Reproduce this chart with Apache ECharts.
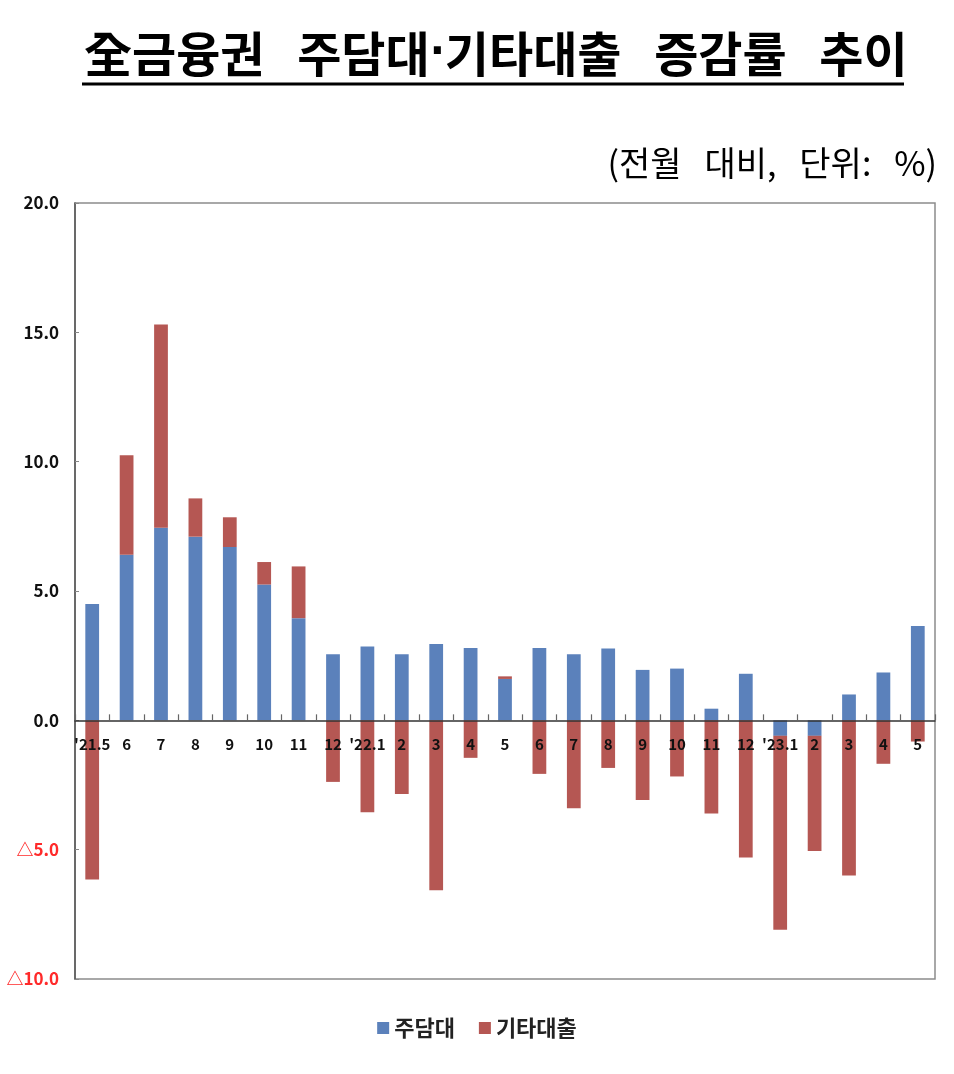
<!DOCTYPE html>
<html>
<head>
<meta charset="utf-8">
<script src="https://cdn.jsdelivr.net/npm/echarts@6/dist/echarts.min.js"></script>
<style>
  html, body { margin: 0; padding: 0; background: #fff; }
  #chart { width: 954px; height: 1074px; }
</style>
</head>
<body>
<div id="chart"></div>
<script>
// 전월 대비 증감률 (%)
const months = ["'21.5", "6", "7", "8", "9", "10", "11", "12", "'22.1", "2", "3", "4", "5",
  "6", "7", "8", "9", "10", "11", "12", "'23.1", "2", "3", "4", "5"];
const mortgage = [4.5, 6.4, 7.45, 7.1, 6.7, 5.25, 3.95, 2.55, 2.85, 2.55, 2.95, 2.8, 1.6,
  2.8, 2.55, 2.78, 1.95, 2.0, 0.45, 1.8, -0.6, -0.6, 1.0, 1.85, 3.65];
const otherLoans = [-6.15, 3.85, 7.85, 1.48, 1.15, 0.87, 2.0, -2.38, -3.55, -2.85, -6.57, -1.45, 0.1,
  -2.07, -3.4, -1.84, -3.08, -2.17, -3.6, -5.3, -7.5, -4.45, -6.0, -1.68, -0.82];
const yTicks = { min: -10, max: 20, step: 5 };

const FONT = "'Noto Sans CJK KR', 'Noto Sans', sans-serif";
const BLUE = "#5b81bb";
const RED = "#b55753";

const chart = echarts.init(document.getElementById("chart"));
chart.setOption({
  backgroundColor: "#fff",
  animation: false,
  title: [
    {
      text: "{a|全금융권   주담대}{b|·}{a|기타대출   증감률   추이}",
      left: 79, top: 25,
      textStyle: {
        rich: {
          a: { fontFamily: FONT, fontSize: 48, fontWeight: "bold", color: "#000" },
          b: { fontFamily: "'DejaVu Sans', sans-serif", fontSize: 40, fontWeight: "bold", color: "#000" }
        }
      }
    },
    {
      text: "(전월   대비,   단위:   %)",
      right: 12, top: 141,
      textStyle: { fontFamily: FONT, fontSize: 34, fontWeight: "normal", color: "#000" }
    }
  ],
  graphic: [{
    type: "line",
    shape: { x1: 82, y1: 84, x2: 904, y2: 84 },
    style: { stroke: "#000", lineWidth: 3 }
  }],
  legend: {
    bottom: 30, left: "center",
    itemWidth: 12, itemHeight: 12, itemGap: 24,
    icon: "rect",
    textStyle: { fontFamily: FONT, fontSize: 22, fontWeight: "bold", color: "#222" },
    data: ["주담대", "기타대출"]
  },
  grid: {
    left: 75, right: 19, top: 203, bottom: 95,
    show: true, borderColor: "#8c8c8c", borderWidth: 1.5
  },
  xAxis: {
    type: "category",
    data: months,
    z: 10,
    position: "bottom",
    axisLine: { onZero: false, lineStyle: { color: "#333", width: 1.5 } },
    axisTick: { show: true, inside: true, interval: 0, length: 6, lineStyle: { color: "#666", width: 1.2 } },
    axisLabel: {
      margin: 16, interval: 0,
      fontFamily: FONT, fontSize: 15, fontWeight: "bold", color: "#111"
    }
  },
  yAxis: {
    type: "value",
    min: yTicks.min, max: yTicks.max, interval: yTicks.step,
    splitLine: { show: false },
    axisLine: { show: true, lineStyle: { color: "#555", width: 1.5 } },
    axisTick: { show: true, inside: true, length: 4, lineStyle: { color: "#888" } },
    axisLabel: {
      margin: 16,
      fontFamily: FONT, fontSize: 17, fontWeight: "bold",
      formatter: (v) => (v < 0 ? "△" + Math.abs(v).toFixed(1) : v.toFixed(1)),
      color: (v) => (Number(v) < 0 ? "#ff2a2a" : "#111")
    }
  },
  series: [
    {
      name: "주담대", type: "bar", stack: "total", barWidth: "40%",
      itemStyle: { color: BLUE }, data: mortgage
    },
    {
      name: "기타대출", type: "bar", stack: "total", barWidth: "40%",
      itemStyle: { color: RED }, data: otherLoans
    }
  ]
});

// 카테고리 축(라벨 포함)을 0선 위치로 올림
const zeroY = chart.convertToPixel({ yAxisIndex: 0 }, 0);
const bottomY = chart.convertToPixel({ yAxisIndex: 0 }, yTicks.min);
chart.setOption({ xAxis: { offset: zeroY - bottomY } });
</script>
</body>
</html>
